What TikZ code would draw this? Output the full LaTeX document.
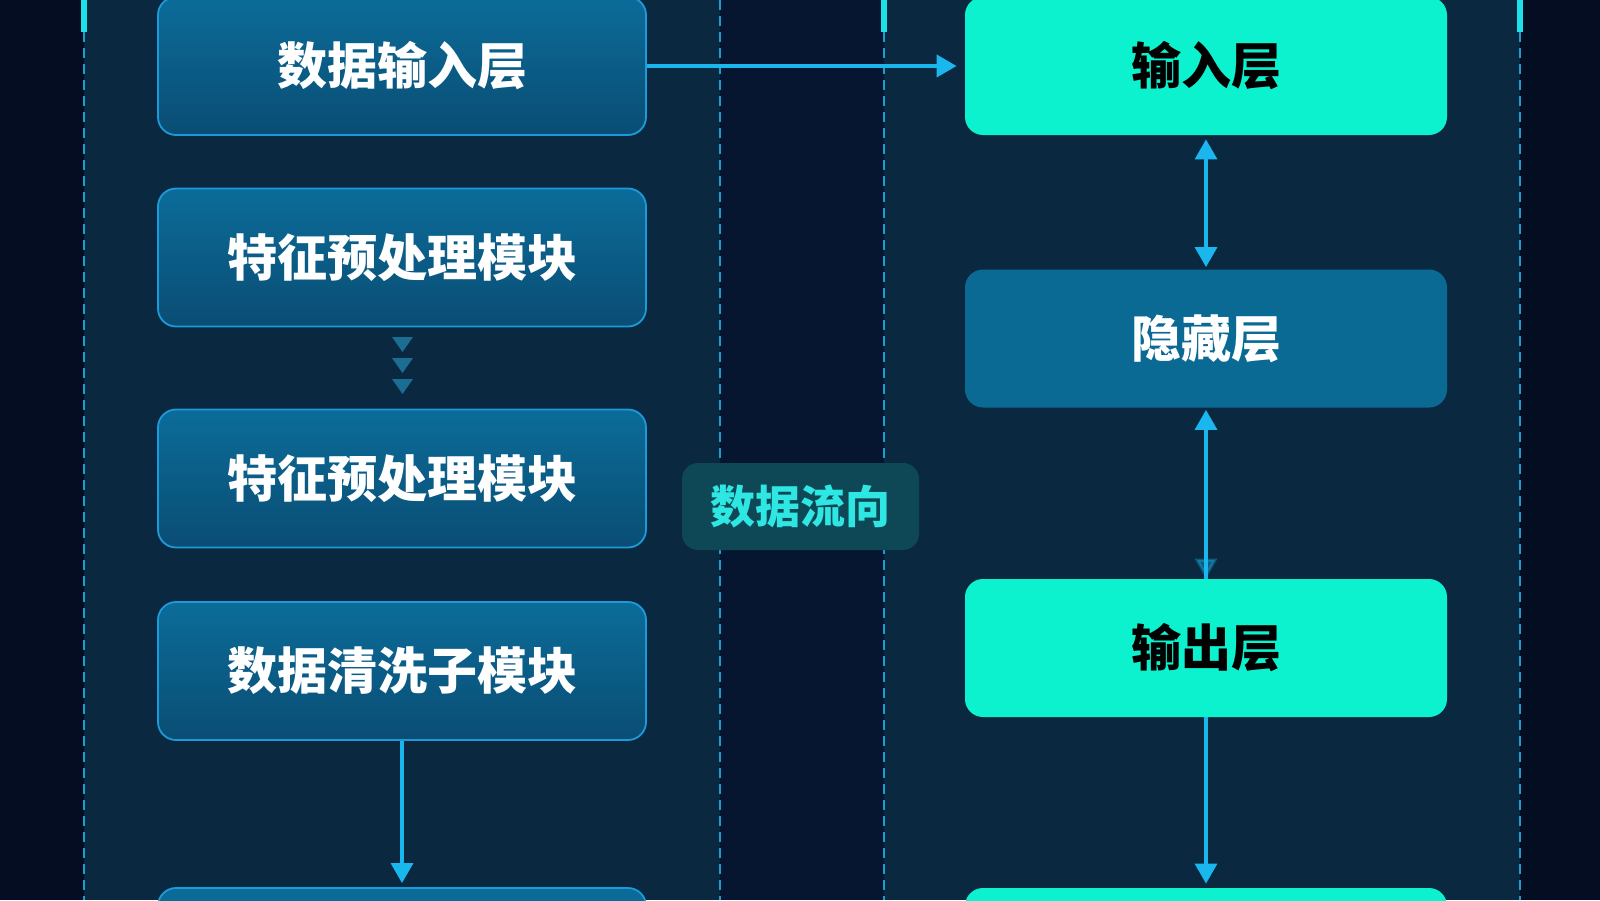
\documentclass[tikz,border=0pt]{standalone}
\usepackage{fontspec}
\setmainfont{Noto Sans CJK SC}
\usetikzlibrary{arrows.meta,calc}
\definecolor{bgdark}{HTML}{040D22}
\definecolor{gapdark}{HTML}{061630}
\definecolor{panel}{HTML}{0A2840}
\definecolor{dashc}{HTML}{1A9FCC}
\definecolor{barc}{HTML}{1EE0E8}
\definecolor{boxtop}{HTML}{0B6C99}
\definecolor{boxbot}{HTML}{0A4D74}
\definecolor{boxborder}{HTML}{1C9ADA}
\definecolor{aqua}{HTML}{0CF2CE}
\definecolor{hidc}{HTML}{0A6A94}
\definecolor{arrowc}{HTML}{1AB6EE}
\definecolor{tric}{HTML}{1B6D93}
\definecolor{lblfill}{HTML}{0E4755}
\definecolor{lbltext}{HTML}{2EE6E2}
\tikzset{
  base/.style={rounded corners=9pt, minimum height=69pt, align=center,
    font=\fontsize{25pt}{30pt}\selectfont\bfseries, inner sep=0pt},
  leftbox/.style={base, minimum width=244pt, top color=boxtop, bottom color=boxbot,
    draw=boxborder, line width=0.9pt, text=white},
  aquabox/.style={base, minimum width=241pt, fill=aqua, text=black},
  hidbox/.style={base, minimum width=241pt, fill=hidc, text=white},
  lblbox/.style={rounded corners=8pt, minimum width=118.5pt, minimum height=43.5pt,
    fill=lblfill, text=lbltext,
    font=\fontsize{22.5pt}{27pt}\selectfont\bfseries, inner sep=0pt},
  conn/.style={draw=arrowc, line width=1.6pt, arrows={-Triangle[length=10pt,width=11pt]}},
  dashln/.style={draw=dashc, line width=0.9pt, dash pattern=on 5pt off 3pt},
  topbar/.style={draw=barc, line width=2.6pt},
}
\begin{document}
\begin{tikzpicture}[x=0.5pt,y=-0.5pt]
\useasboundingbox (0,0) rectangle (1600,900);
\fill[bgdark] (0,0) rectangle (1600,900);
\fill[gapdark] (720,0) rectangle (884,900);
\fill[panel] (84,0) rectangle (720,900);
\fill[panel] (884,0) rectangle (1520,900);
% dashed guide lines
\draw[dashln] (84,32) -- (84,900);
\draw[dashln] (720,0) -- (720,900);
\draw[dashln] (884,32) -- (884,900);
\draw[dashln] (1520,32) -- (1520,900);
\draw[topbar] (84,0) -- (84,32);
\draw[topbar] (884,0) -- (884,32);
\draw[topbar] (1520,0) -- (1520,32);
% left column
\node[leftbox] (b1) at (402,66) {数据输入层};
\node[leftbox] (b2) at (402,257.5) {特征预处理模块};
\node[leftbox] (b3) at (402,478.5) {特征预处理模块};
\node[leftbox] (b4) at (402,671) {数据清洗子模块};
\node[leftbox] (b5) at (402,957) {};
% right column
\node[aquabox] (in) at (1206,66) {输入层};
\node[hidbox] (hid) at (1206,338.5) {隐藏层};
\node[aquabox] (out) at (1206,648) {输出层};
\node[aquabox] (last) at (1206,957) {};
% label
\node[lblbox] (lbl) at (800.5,506.5) {数据流向};
% faded triangles between b2 and b3
\foreach \ty in {337,358,379} {
  \fill[tric] (392,\ty) -- (413,\ty) -- (402.5,\ty+15) -- cycle;
}
% connectors
\draw[conn, line width=2pt, shorten >=4pt] (b1.east) -- (in.west);
\draw[conn, arrows={Triangle[length=10pt,width=11pt]-Triangle[length=10pt,width=11pt]}, shorten <=2pt, shorten >=1pt] (in.south) -- (hid.north);
\draw[conn, shorten >=1pt] (out.north) -- (hid.south);
\draw[conn, opacity=0.35] ($(out.north)+(0,-30)$) -- (out.north);
\draw[conn, shorten >=2pt] (b4.south) -- (b5.north);
\draw[conn, shorten >=2pt] (out.south) -- (last.north);
\end{tikzpicture}
\end{document}
